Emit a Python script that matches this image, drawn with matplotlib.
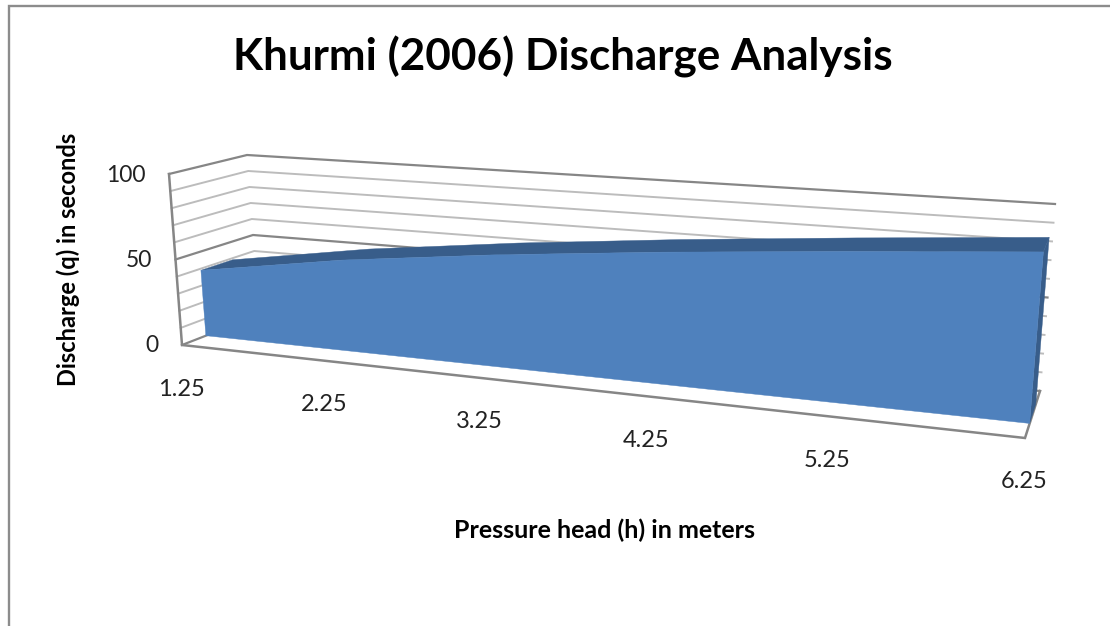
import numpy as np
import matplotlib
matplotlib.use("Agg")
import matplotlib.pyplot as plt
from matplotlib.patches import Polygon

plt.rcParams['font.family'] = ['Lato', 'DejaVu Sans']

title = "Khurmi (2006) Discharge Analysis"
x_label = "Pressure head (h) in meters"
y_label = "Discharge (q) in seconds"
heads = [1.25, 2.25, 3.25, 4.25, 5.25, 6.25]
head_labels = ["1.25", "2.25", "3.25", "4.25", "5.25", "6.25"]
discharge = [39, 52.5, 63, 72, 80, 87.5]
y_ticks = [0, 50, 100]
y_grid = [0, 10, 20, 30, 40, 50, 60, 70, 80, 90, 100]

# Corners of the chart box in the picture: (left/right, bottom/top, front/back)
BOX = {
    (0, 0, 0): (182, 345), (1, 0, 0): (1025, 438),
    (0, 1, 0): (169, 174), (1, 1, 0): (1041, 238),
    (0, 0, 1): (259, 315), (1, 0, 1): (1040, 391),
    (0, 1, 1): (247, 155), (1, 1, 1): (1055, 204),
}
PERSP = 1.22
W_FRONT, W_BACK = 0.31, 0.72


def project(h, q, w):
    """3-D chart coordinates (head, discharge, depth) to picture coordinates."""
    u = (h - heads[0]) / (heads[-1] - heads[0])
    u = u / (u + PERSP * (1 - u))
    v = q / 100.0
    pt = np.zeros(2)
    for (i, j, k), c in BOX.items():
        wt = (u if i else 1 - u) * (v if j else 1 - v) * (w if k else 1 - w)
        pt += wt * np.array(c, float)
    return pt


fig = plt.figure(figsize=(11.10, 6.26), dpi=100)
ax = fig.add_axes([0, 0, 1, 1])
ax.set_xlim(0, 1110)
ax.set_ylim(626, 0)
ax.axis('off')

# Chart frame
ax.plot([8.5, 8.5, 1110], [626, 5.5, 5.5], color='#8c8c8c', lw=1.7, solid_joinstyle='miter')

h0, h1 = heads[0], heads[-1]
LIGHT, DARK = '#bcbcbc', '#868686'
for q in y_grid:
    major = q in y_ticks
    a, b, c = project(h0, q, 0), project(h0, q, 1), project(h1, q, 1)
    ax.plot([a[0], b[0], c[0]], [a[1], b[1], c[1]], color=DARK if major else LIGHT,
            lw=1.6 if major else 1.4, solid_joinstyle='miter', zorder=2)

# Axis lines
p = np.array([project(*t) for t in [(h0, 100, 0), (h0, 0, 0), (h1, 0, 0), (h1, 0, 1)]])
ax.plot(p[:, 0], p[:, 1], color=DARK, lw=1.8, solid_joinstyle='miter', zorder=2.5)

# Area: right side, top surface and front face
FRONT, SIDE = '#4f81bd', '#385d8a'
right = [project(h1, 0, W_FRONT), project(h1, discharge[-1], W_FRONT),
         project(h1, discharge[-1], W_BACK), project(h1, 0, W_BACK)]
ax.add_patch(Polygon(right, closed=True, fc=SIDE, ec=SIDE, lw=0.3, zorder=3))
top = [project(h, q, W_FRONT) for h, q in zip(heads, discharge)]
top += [project(h, q, W_BACK) for h, q in zip(heads[::-1], discharge[::-1])]
ax.add_patch(Polygon(top, closed=True, fc=SIDE, ec=SIDE, lw=0.3, zorder=3))
face = [project(h, q, W_FRONT) for h, q in zip(heads, discharge)]
face += [project(h1, 0, W_FRONT), project(h0, 0, W_FRONT)]
ax.add_patch(Polygon(face, closed=True, fc=FRONT, ec=FRONT, lw=0.3, zorder=4))

# Tick labels
for q in y_ticks:
    p = project(h0, q, 0)
    ax.text(p[0] - 23, p[1] + 1, str(q), ha='right', va='center', fontsize=16.5, color='#222222')
for h, lab in zip(heads, head_labels):
    p = project(h, 0, 0)
    ax.text(p[0] - 1, p[1] + 44, lab, ha='center', va='center', fontsize=17, color='#222222')

ax.text(563, 57, title, ha='center', va='center', fontsize=31.7, fontweight='bold', color='#000000')
ax.text(605, 530, x_label, ha='center', va='center', fontsize=18, fontweight='bold', color='#000000')
ax.text(68, 259, y_label, ha='center', va='center', rotation=90, fontsize=17, fontweight='bold', color='#000000')

fig.savefig('out.png', dpi=100)
